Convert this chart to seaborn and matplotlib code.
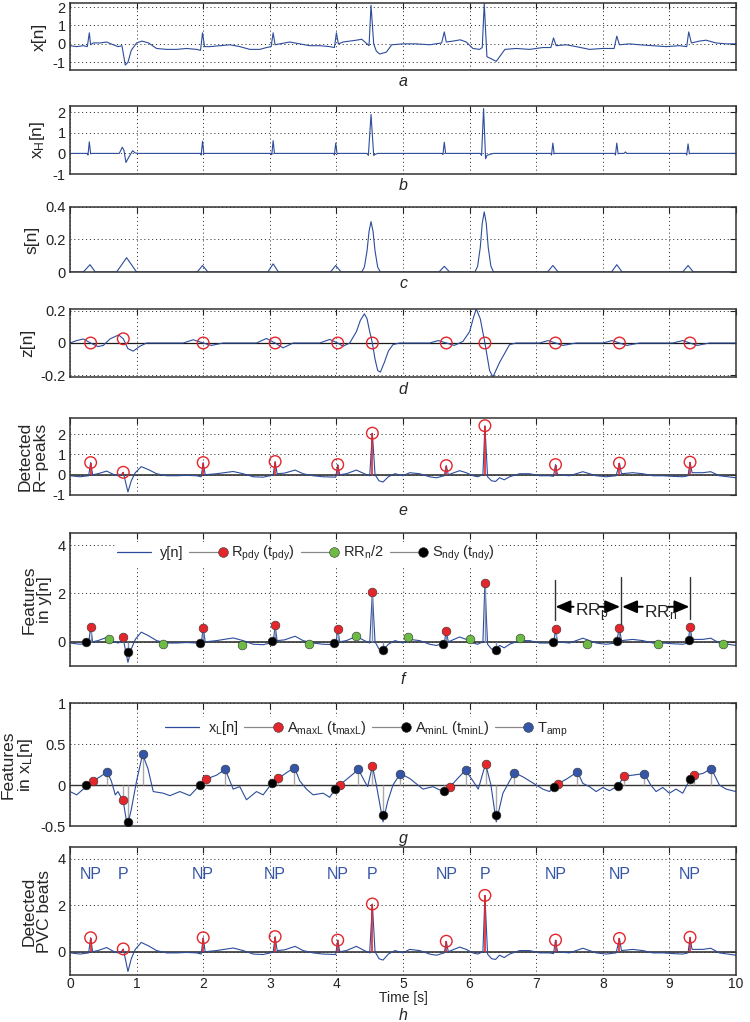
import numpy as np
import matplotlib
matplotlib.use("Agg")
import matplotlib.pyplot as plt
import seaborn as sns
from matplotlib.lines import Line2D
from matplotlib.legend_handler import HandlerLine2DCompound

# ---------------- data ----------------
# panel a: raw ECG x[n]
a_t = [0, 0.1, 0.2, 0.26, 0.29, 0.31, 0.35, 0.45, 0.55, 0.65, 0.72, 0.78, 0.83, 0.87, 0.92,
       1.0, 1.08, 1.18, 1.3, 1.45, 1.6, 1.75, 1.9, 1.96, 1.99, 2.02, 2.1, 2.25, 2.4, 2.55,
       2.7, 2.85, 2.95, 3.02, 3.05, 3.08, 3.15, 3.3, 3.45, 3.6, 3.75, 3.9, 3.97, 4.0, 4.03,
       4.1, 4.2, 4.3, 4.38, 4.46, 4.49, 4.52, 4.56, 4.6, 4.65, 4.75, 4.83, 5.0, 5.2, 5.4,
       5.58, 5.62, 5.65, 5.75, 5.86, 5.95, 6.05, 6.15, 6.19, 6.22, 6.26, 6.32, 6.4, 6.47,
       6.53, 6.7, 6.9, 7.1, 7.22, 7.26, 7.3, 7.45, 7.6, 7.8, 8.0, 8.17, 8.21, 8.25, 8.4,
       8.55, 8.75, 8.95, 9.15, 9.26, 9.29, 9.33, 9.45, 9.55, 9.7, 9.85, 10.0]
a_v = [-0.1, -0.15, -0.1, -0.15, 0.6, -0.05, 0.05, 0.05, 0.1, -0.05, -0.15, -0.1, -1.15, -1.0, -0.35,
       0.05, 0.15, 0.05, -0.25, -0.3, -0.3, -0.25, -0.3, -0.35, 0.6, -0.15, -0.15, -0.1, -0.05, -0.15,
       -0.3, -0.3, -0.2, -0.15, 0.6, -0.05, 0.0, 0.1, 0.0, -0.1, -0.1, -0.15, -0.2, 0.6, 0.0,
       0.1, 0.15, 0.2, 0.25, 0.0, -0.1, 2.1, 0.0, -0.4, -0.55, -0.45, -0.05, 0.0, 0.0, -0.05,
       0.05, 0.65, 0.1, 0.15, 0.22, 0.1, -0.25, -0.3, -0.2, 2.2, -0.7, -0.8, -0.95, -0.6,
       -0.3, -0.25, -0.3, -0.2, -0.2, 0.32, -0.1, -0.05, -0.15, -0.3, -0.25, -0.25, 0.42, -0.05, 0.0,
       -0.05, -0.1, -0.15, -0.1, -0.15, 0.65, 0.05, 0.15, 0.2, 0.05, 0.0, 0.0]

# panel b: high-passed x_H[n]
b_t = [0, 0.26, 0.27, 0.29, 0.31, 0.33, 0.74, 0.785, 0.81, 0.84, 0.88, 0.94, 0.98, 1.03,
       1.96, 1.97, 1.99, 2.01, 2.03, 3.02, 3.03, 3.05, 3.07, 3.09, 3.96, 3.97, 3.99, 4.01, 4.03,
       4.46, 4.48, 4.52, 4.56, 4.58, 4.62, 5.59, 5.6, 5.62, 5.64, 5.66, 6.16, 6.18, 6.21, 6.24,
       6.26, 6.3, 6.36, 7.22, 7.23, 7.25, 7.27, 7.29, 8.18, 8.19, 8.21, 8.23, 8.25, 8.32, 8.34,
       8.36, 9.25, 9.26, 9.28, 9.3, 9.32, 10.0]
b_v = [0, 0, -0.08, 0.56, -0.02, 0, 0, 0.3, 0.15, -0.44, -0.2, 0.13, 0.02, 0,
       0, -0.08, 0.59, -0.02, 0, 0, -0.06, 0.62, 0.0, 0, 0, -0.08, 0.5, -0.02, 0,
       0, -0.1, 1.89, -0.1, -0.05, 0, 0, -0.05, 0.54, 0.0, 0, 0, -0.1, 2.18, -0.26,
       -0.1, -0.05, 0, 0, -0.08, 0.5, -0.02, 0, 0, -0.08, 0.5, -0.02, 0.0, 0.0, 0.07,
       0.0, 0, -0.08, 0.46, -0.02, 0, 0]

# panel c: s[n]
c_t = [0, 0.2, 0.3, 0.38, 0.7, 0.85, 1.0, 1.91, 1.99, 2.07, 2.97, 3.05, 3.13, 3.91, 3.99,
       4.07, 4.38, 4.42, 4.46, 4.49, 4.52, 4.55, 4.58, 4.62, 4.66, 5.54, 5.62, 5.7, 6.08,
       6.12, 6.16, 6.19, 6.22, 6.25, 6.28, 6.32, 6.36, 7.17, 7.25, 7.33, 8.13, 8.21, 8.29,
       9.2, 9.28, 9.36, 10.0]
c_v = [0, 0, 0.045, 0, 0, 0.088, 0, 0, 0.04, 0, 0, 0.05, 0, 0, 0.04,
       0, 0, 0.03, 0.13, 0.25, 0.31, 0.25, 0.13, 0.03, 0, 0, 0.035, 0, 0,
       0.035, 0.15, 0.3, 0.37, 0.3, 0.15, 0.035, 0, 0, 0.04, 0, 0, 0.045, 0,
       0, 0.04, 0, 0]

# panel d: z[n]
d_t = [0, 0.1, 0.2, 0.31, 0.42, 0.5, 0.6, 0.73, 0.8, 0.87, 0.95, 1.05, 1.15, 1.7, 1.85,
       2.0, 2.12, 2.3, 2.8, 2.95, 3.08, 3.2, 3.35, 3.75, 3.9, 4.02, 4.1, 4.2, 4.3, 4.36,
       4.42, 4.46, 4.5, 4.54, 4.58, 4.62, 4.66, 4.72, 4.78, 4.85, 4.95, 5.4, 5.53, 5.65,
       5.77, 5.9, 6.0, 6.06, 6.1, 6.16, 6.23, 6.3, 6.35, 6.45, 6.6, 6.7, 7.05, 7.18, 7.29,
       7.4, 7.6, 8.0, 8.14, 8.25, 8.36, 8.55, 9.05, 9.2, 9.31, 9.42, 9.6, 10.0]
d_v = [0, 0.015, 0.025, 0, -0.022, -0.015, 0.025, 0.05, 0.026, -0.035, -0.05, -0.02, 0, 0, 0.02,
       0, -0.015, 0, 0, 0.028, 0, -0.03, 0, 0, 0.022, 0, -0.02, 0, 0.07, 0.14,
       0.18, 0.15, 0.07, 0, -0.1, -0.17, -0.18, -0.12, -0.05, -0.01, 0, 0, 0.015, 0,
       -0.015, 0.01, 0.07, 0.16, 0.21, 0.15, 0, -0.17, -0.21, -0.12, -0.01, 0, 0, 0.015, 0,
       -0.015, 0, 0, 0.015, 0, -0.015, 0, 0, 0.015, 0, -0.015, 0, 0]

# detected R-peak times and the marker heights in each panel
r_t = [0.31, 0.80, 2.00, 3.08, 4.02, 4.54, 5.65, 6.23, 7.29, 8.25, 9.31]
r_d = [0, 0.026, 0, 0, 0, 0, 0, 0, 0, 0, 0]
r_e = [0.6, 0.12, 0.6, 0.65, 0.5, 2.05, 0.45, 2.42, 0.5, 0.57, 0.62]
r_f = [0.61, 0.18, 0.59, 0.68, 0.52, 2.06, 0.45, 2.42, 0.52, 0.59, 0.63]
beat_labels = ["NP", "P", "NP", "NP", "NP", "P", "NP", "P", "NP", "NP", "NP"]

# y[n] (panels e, f, h)
y_t = [0, 0.15, 0.28, 0.31, 0.34, 0.42, 0.55, 0.65, 0.72, 0.77, 0.80, 0.83, 0.87, 0.92, 0.98,
       1.07, 1.18, 1.3, 1.45, 1.6, 1.75, 1.9, 1.97, 2.0, 2.03, 2.2, 2.45, 2.6, 2.75, 2.9,
       3.05, 3.08, 3.11, 3.22, 3.38, 3.5, 3.65, 3.8, 3.99, 4.02, 4.05, 4.15, 4.3, 4.42, 4.5,
       4.54, 4.58, 4.64, 4.7, 4.78, 4.88, 5.0, 5.1, 5.25, 5.4, 5.5, 5.62, 5.65, 5.68, 5.85,
       5.95, 6.05, 6.12, 6.2, 6.23, 6.27, 6.33, 6.39, 6.45, 6.52, 6.6, 6.75, 6.9, 7.05, 7.2,
       7.26, 7.29, 7.32, 7.5, 7.7, 7.9, 8.05, 8.2, 8.25, 8.28, 8.45, 8.6, 8.75, 8.9, 9.05,
       9.2, 9.28, 9.31, 9.34, 9.5, 9.62, 9.75, 9.88, 10.0]
y_v = [-0.05, -0.1, -0.05, 0.6, 0.0, 0.05, 0.18, 0.02, -0.05, 0.0, 0.12, -0.3, -0.85, -0.3, 0.1,
       0.4, 0.25, 0.05, -0.05, -0.05, -0.03, -0.05, -0.1, 0.6, 0.0, 0.05, 0.16, 0.05, -0.1, -0.12,
       -0.02, 0.65, 0.05, 0.08, 0.23, 0.05, -0.05, -0.1, -0.12, 0.5, 0.0, 0.05, 0.23, 0.05, -0.05,
       2.05, 0.0, -0.3, -0.36, -0.1, 0.05, -0.05, 0.1, 0.05, -0.1, -0.15, -0.05, 0.45, 0.0, 0.2,
       0.1, -0.05, -0.1, 0.0, 2.42, -0.1, -0.3, -0.33, -0.15, -0.25, -0.1, 0.05, 0.05, -0.05, -0.05,
       -0.08, 0.5, 0.0, -0.05, 0.15, -0.05, -0.1, -0.05, 0.57, 0.05, 0.1, 0.05, -0.05, -0.05, -0.08,
       -0.1, -0.05, 0.62, 0.1, 0.1, 0.15, -0.05, -0.1, -0.15]

# panel f features
rr_t = [0.59, 1.39, 2.59, 3.59, 4.29, 5.07, 6.0, 6.76, 7.77, 8.83, 9.81]
rr_v = [0.1, -0.07, -0.12, -0.07, 0.25, 0.2, 0.11, 0.17, -0.07, -0.1, -0.1]
s_t = [0.24, 0.87, 1.95, 3.03, 3.97, 4.70, 5.60, 6.39, 7.25, 8.21, 9.29]
s_v = [0.0, -0.43, -0.03, 0.04, -0.06, -0.33, -0.07, -0.32, 0.0, 0.04, 0.08]

# panel g: x_L[n] and its features
g_t = [0, 0.1, 0.2, 0.24, 0.35, 0.45, 0.56, 0.62, 0.68, 0.72, 0.8, 0.86, 0.92, 1.0, 1.09,
       1.17, 1.25, 1.4, 1.5, 1.65, 1.8, 1.95, 2.04, 2.2, 2.33, 2.45, 2.55, 2.65, 2.8, 2.9,
       3.03, 3.13, 3.25, 3.37, 3.45, 3.55, 3.65, 3.8, 3.9, 3.98, 4.05, 4.2, 4.33, 4.42, 4.47,
       4.54, 4.6, 4.7, 4.77, 4.85, 4.96, 5.1, 5.3, 5.45, 5.55, 5.61, 5.71, 5.82, 5.94, 6.05,
       6.13, 6.24, 6.32, 6.4, 6.5, 6.67, 6.8, 7.0, 7.1, 7.2, 7.27, 7.32, 7.47, 7.62, 7.7,
       7.8, 7.9, 8.0, 8.1, 8.23, 8.32, 8.45, 8.62, 8.72, 8.8, 8.9, 9.0, 9.1, 9.2, 9.31,
       9.37, 9.5, 9.63, 9.75, 9.85, 10.0]
g_v = [-0.08, -0.12, -0.05, 0.0, 0.05, 0.1, 0.16, 0.05, -0.12, -0.08, -0.2, -0.5, -0.3, 0.05, 0.375,
       0.2, -0.08, -0.1, -0.13, -0.08, -0.13, 0.0, 0.07, 0.12, 0.19, -0.05, -0.02, -0.18, -0.08, -0.12,
       0.02, 0.08, 0.15, 0.21, 0.05, -0.05, -0.12, -0.1, -0.15, -0.05, 0.0, 0.1, 0.19, 0.05, -0.02,
       0.23, 0.0, -0.45, -0.2, 0.0, 0.14, 0.08, -0.05, -0.02, -0.06, -0.07, -0.02, 0.08, 0.18, 0.05,
       -0.05, 0.26, 0.0, -0.45, -0.1, 0.15, 0.1, 0.0, -0.05, -0.08, -0.02, 0.01, 0.08, 0.16, 0.02,
       -0.02, -0.08, -0.03, -0.07, -0.01, 0.11, 0.12, 0.14, 0.0, -0.08, -0.03, -0.1, -0.05, -0.1, 0.07,
       0.12, 0.14, 0.2, 0.0, -0.05, -0.08]
amax_t = [0.35, 0.80, 2.04, 3.13, 4.05, 4.54, 5.71, 6.24, 7.32, 8.32, 9.37]
amax_v = [0.05, -0.18, 0.07, 0.08, 0.0, 0.23, -0.02, 0.26, 0.01, 0.11, 0.12]
amin_t = [0.24, 0.87, 1.95, 3.03, 3.98, 4.70, 5.61, 6.40, 7.27, 8.23, 9.31]
amin_v = [0.0, -0.45, 0.0, 0.02, -0.05, -0.37, -0.07, -0.36, -0.02, -0.01, 0.07]
tamp_t = [0.56, 1.09, 2.33, 3.37, 4.33, 4.96, 5.94, 6.67, 7.62, 8.62, 9.63]
tamp_v = [0.16, 0.375, 0.19, 0.21, 0.19, 0.14, 0.18, 0.15, 0.16, 0.14, 0.2]

# ---------------- style ----------------
sns.set_theme(style="white")
plt.rcParams["font.family"] = ["Liberation Sans", "DejaVu Sans"]
plt.rcParams["mathtext.default"] = "regular"
plt.rcParams["axes.unicode_minus"] = False

BLUE = "#2c4c9c"
RED = "#e3262b"
GREEN = "#6dbb45"
MBLUE = "#3556a8"
W, H = 750, 1022
L, R = 70, 736

fig = plt.figure(figsize=(W / 100, H / 100), dpi=100)

# (top px, bottom px) of each panel
boxes = [(3, 70), (106, 174), (207, 272), (309, 377), (418, 495), (533, 666), (703, 826), (847, 975)]
axes = []
for top, bot in boxes:
    axes.append(fig.add_axes([L / W, 1 - bot / H, (R - L) / W, (bot - top) / H]))


def setup(ax, ylim, yticks, ylabel, letter, letter_y, xlabels=False):
    ax.set_xlim(0, 10)
    ax.set_ylim(*ylim)
    ax.set_xticks(range(11))
    ax.set_yticks(yticks)
    ax.set_yticklabels([f"{v:g}" for v in yticks])
    if not xlabels:
        ax.set_xticklabels([])
    ax.grid(True, color="#222222", ls=(0, (1, 3)), lw=0.7)
    ax.tick_params(direction="in", top=True, right=True, length=4, width=0.8,
                   labelsize=10.5, pad=3, colors="#222222")
    ax.tick_params(axis="x", pad=1.5, labelsize=10)
    for sp in ax.spines.values():
        sp.set_color("#333333")
        sp.set_linewidth(1.1)
    ax.set_ylabel(ylabel, fontsize=12.5, labelpad=4, linespacing=1.0)
    ax.set_xlabel("")
    fig.text(403 / W, 1 - letter_y / H, letter, style="italic", fontsize=11.5,
             ha="center", va="center")


def sig(ax, t, v):
    sns.lineplot(x=t, y=v, ax=ax, color=BLUE, lw=0.8, sort=False, estimator=None, legend=False)


class EndMarker(HandlerLine2DCompound):
    def get_xdata(self, legend, xdescent, ydescent, width, height, fontsize):
        return np.array([-xdescent, width - xdescent]), np.array([width - xdescent])


def feature_legend(ax, labels, colors, anchor):
    handles = [Line2D([], [], color=BLUE, lw=0.9)]
    for c in colors:
        handles.append(Line2D([], [], color="#888888", lw=0.9, marker="o", ms=7,
                              mfc=c, mec="#333333", mew=0.4))
    ax.legend(handles, labels, ncol=4, loc="center left", bbox_to_anchor=anchor,
              fontsize=10.5, frameon=True, framealpha=1, edgecolor="white", fancybox=False,
              borderpad=0.15, borderaxespad=0, handlelength=2.3, handletextpad=0.6,
              columnspacing=0.4, handler_map={Line2D: EndMarker()})


# a
ax = axes[0]
sig(ax, a_t, a_v)
setup(ax, (-1.42, 2.22), [-1, 0, 1, 2], "x[n]", "a", 82)

# b
ax = axes[1]
sig(ax, b_t, b_v)
setup(ax, (-1, 2.3), [-1, 0, 1, 2], "x$_H$[n]", "b", 186)

# c
ax = axes[2]
sig(ax, c_t, c_v)
setup(ax, (0, 0.4), [0, 0.2, 0.4], "s[n]", "c", 284)

# d
ax = axes[3]
ax.axhline(0, color="k", lw=0.9, zorder=1)
sig(ax, d_t, d_v)
sns.scatterplot(x=r_t, y=r_d, ax=ax, marker="o", s=70, facecolor="none", edgecolor=RED,
                linewidth=1.0, zorder=5, legend=False)
setup(ax, (-0.21, 0.21), [-0.2, 0, 0.2], "z[n]", "d", 389)

# e
ax = axes[4]
ax.axhline(0, color="#333333", lw=1.2, zorder=1)
sig(ax, y_t, y_v)
ax.vlines(r_t, 0, r_e, color=RED, lw=1.2, zorder=4)
sns.scatterplot(x=r_t, y=r_e, ax=ax, marker="o", s=70, facecolor="none", edgecolor=RED,
                linewidth=1.0, zorder=5, legend=False)
setup(ax, (-1, 2.8), [-1, 0, 1, 2], "Detected\nR\u2212peaks", "e", 510)

# f
ax = axes[5]
ax.axhline(0, color="#333333", lw=1.2, zorder=1)
sig(ax, y_t, y_v)
ax.vlines(r_t, 0, r_f, color="#7f8fb5", lw=1.0, zorder=3)
ax.vlines(s_t, 0, s_v, color="#7f8fb5", lw=1.0, zorder=3)
for t, v, col in [(r_t, r_f, RED), (rr_t, rr_v, GREEN), (s_t, s_v, "black")]:
    sns.scatterplot(x=t, y=v, ax=ax, color=col, s=40, edgecolor="#333333", linewidth=0.4,
                    zorder=5, legend=False)
for xv, y0, y1 in [(7.28, 0.9, 2.56), (8.27, 0.7, 2.7), (9.31, 0.95, 2.7)]:
    ax.plot([xv, xv], [y0, y1], color="#333333", lw=1.0)
arrow = dict(arrowstyle="-|>,head_length=0.75,head_width=0.32", color="black", lw=1.4,
             shrinkA=0, shrinkB=0)
for tail, tip in [(7.56, 7.29), (7.94, 8.26), (8.6, 8.29), (8.98, 9.30)]:
    ax.annotate("", xy=(tip, 1.45), xytext=(tail, 1.45), arrowprops=arrow)
ax.text(7.59, 1.22, "RR$_p$", fontsize=12.5, ha="left", va="center", zorder=6)
ax.text(8.62, 1.22, "RR$_n$", fontsize=12.5, ha="left", va="center", zorder=6)
feature_legend(ax, ["y[n]", "R$_{pdy}$ (t$_{pdy}$)", "RR$_n$/2", "S$_{ndy}$ (t$_{ndy}$)"],
               [RED, GREEN, "black"], (0.068, 0.845))
setup(ax, (-1, 4.5), [0, 2, 4], "Features\nin y[n]", "f", 680)

# g
ax = axes[6]
ax.axhline(0, color="#333333", lw=1.0, zorder=1)
for t, v in [(amax_t, amax_v), (amin_t, amin_v), (tamp_t, tamp_v)]:
    ax.vlines(t, 0, v, color="#aaaaaa", lw=1.0, zorder=2)
sig(ax, g_t, g_v)
for t, v, col in [(amax_t, amax_v, RED), (amin_t, amin_v, "black"), (tamp_t, tamp_v, MBLUE)]:
    sns.scatterplot(x=t, y=v, ax=ax, color=col, s=40, edgecolor="#333333", linewidth=0.4,
                    zorder=5, legend=False)
feature_legend(ax, ["x$_L$[n]", "A$_{maxL}$ (t$_{maxL}$)", "A$_{minL}$ (t$_{minL}$)", "T$_{amp}$"],
               [RED, "black", MBLUE], (0.14, 0.79))
setup(ax, (-0.5, 1), [-0.5, 0, 0.5, 1], "Features\nin x$_L$[n]", "g", 838)

# h
ax = axes[7]
ax.axhline(0, color="#333333", lw=1.2, zorder=1)
sig(ax, y_t, y_v)
ax.vlines(r_t, 0, r_e, color=RED, lw=1.2, zorder=4)
sns.scatterplot(x=r_t, y=r_e, ax=ax, marker="o", s=70, facecolor="none", edgecolor=RED,
                linewidth=1.0, zorder=5, legend=False)
for t, lab in zip(r_t, beat_labels):
    ax.text(t, 3.3, lab, color=MBLUE, fontsize=11.5, ha="center", va="center")
setup(ax, (-1, 4.5), [0, 2, 4], "Detected\nPVC beats", "h", 1015, xlabels=True)
ax.set_xlabel("Time [s]", fontsize=10, labelpad=0)

fig.align_ylabels(axes)
fig.savefig("out.png", dpi=100)
